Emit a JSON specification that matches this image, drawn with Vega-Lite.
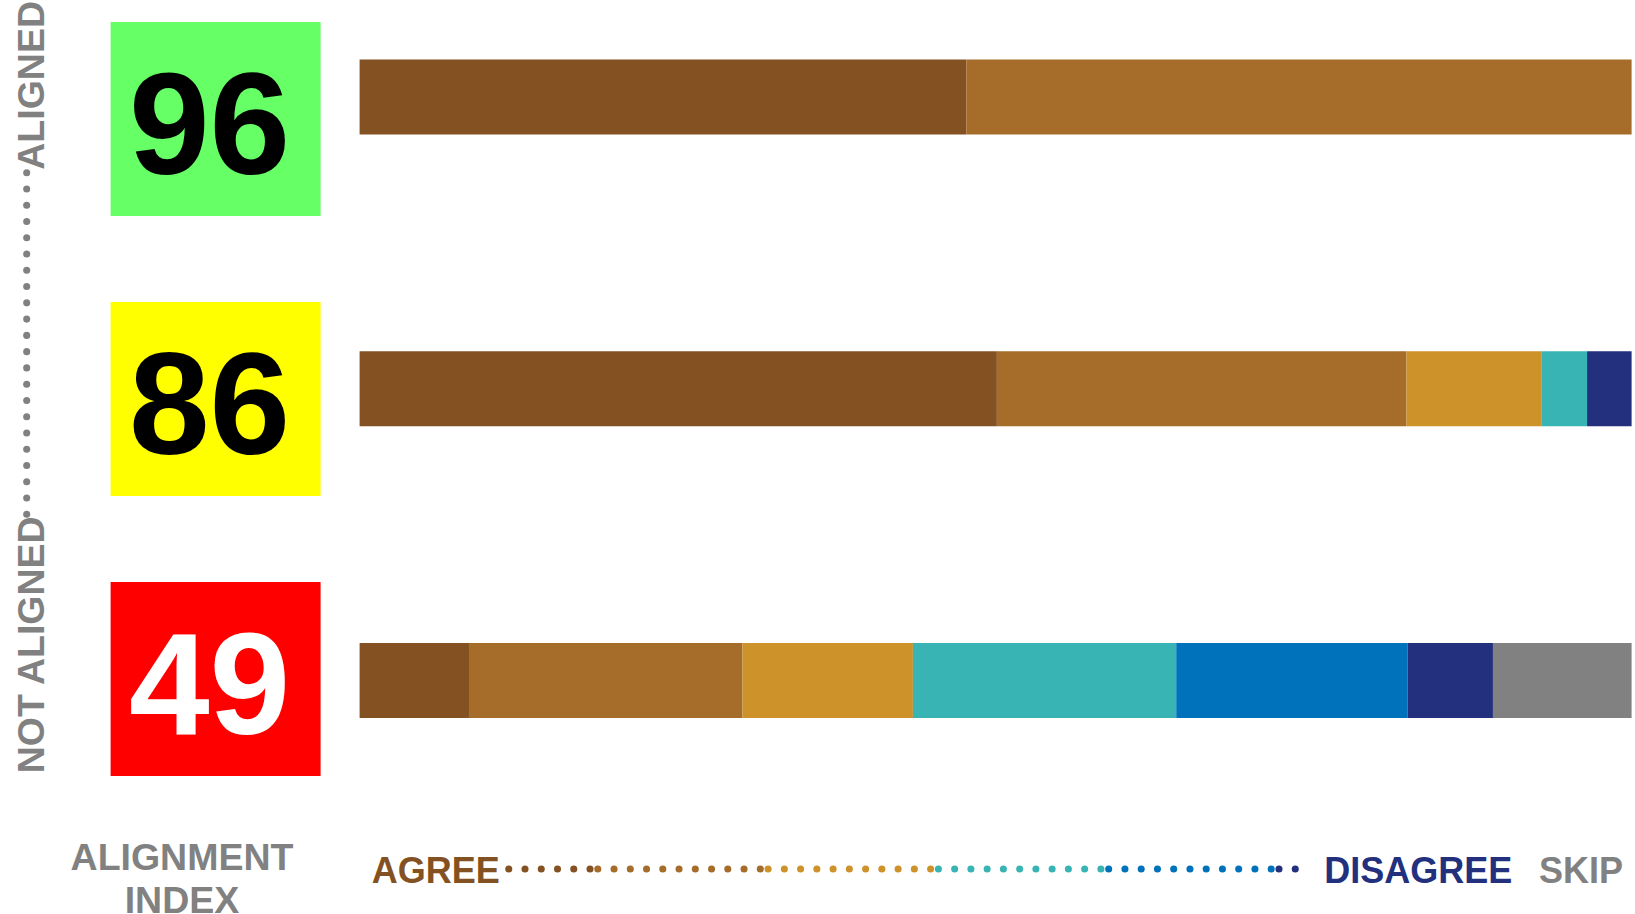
{
  "$schema": "https://vega.github.io/schema/vega-lite/v6.json",
  "padding": 0,
  "background": "white",
  "config": {"view": {"stroke": null}},
  "spacing": 12,
  "vconcat": [
    {
      "spacing": 56.6,
      "hconcat": [
        {
          "width": 53.4,
          "height": 776,
          "encoding": {
            "y": {"field": "k", "type": "quantitative", "axis": null,
              "scale": {"domain": [-9.617, 38.087], "reverse": true, "nice": false, "zero": false, "round": false}}
          },
          "layer": [
            {
              "data": {"values": [{"k":1},{"k":2},{"k":3},{"k":4},{"k":5},{"k":6},{"k":7},{"k":8},{"k":9},{"k":10},{"k":11},{"k":12},{"k":13},{"k":14},{"k":15},{"k":16},{"k":17},{"k":18},{"k":19},{"k":20},{"k":21},{"k":22}]},
              "mark": {"type": "circle", "size": 50, "color": "#818181", "opacity": 1}
            },
            {
              "data": {"values": [{"label": "ALIGNED", "k": 1}]},
              "mark": {"type": "text", "angle": 270, "align": "left", "baseline": "alphabetic", "dx": 3, "dy": 17.3, "font": "Liberation Sans", "fontSize": 37.5, "fontWeight": "bold", "color": "#818181"},
              "encoding": {"text": {"field": "label"}}
            },
            {
              "data": {"values": [{"label": "NOT ALIGNED", "k": 22}]},
              "mark": {"type": "text", "angle": 270, "align": "right", "baseline": "alphabetic", "dx": -2, "dy": 17.3, "font": "Liberation Sans", "fontSize": 37.5, "fontWeight": "bold", "color": "#818181"},
              "encoding": {"text": {"field": "label"}}
            }
          ]
        },
        {
          "spacing": 39,
          "hconcat": [
            {
              "width": 210,
              "height": 776,
              "data": {"values": [{"index": "96"}, {"index": "86"}, {"index": "49"}]},
              "encoding": {
                "y": {"field": "index", "type": "nominal", "axis": null,
                  "scale": {"type": "band", "domain": ["96","86","49"], "paddingInner": 0.3071, "paddingOuter": 0.0392, "align": 1, "round": false}}
              },
              "layer": [
                {
                  "mark": {"type": "bar"},
                  "encoding": {"fill": {"field": "index", "type": "nominal", "legend": null,
                    "scale": {"domain": ["96","86","49"], "range": ["#66FF66","#FFFF00","#FF0000"]}}}
                },
                {
                  "mark": {"type": "text", "font": "Liberation Sans", "fontSize": 145, "fontWeight": "bold", "baseline": "middle", "align": "center", "dx": -6, "dy": 11},
                  "encoding": {
                    "text": {"field": "index"},
                    "color": {"condition": {"test": "datum.index === '49'", "value": "white"}, "value": "black"}
                  }
                }
              ]
            },
            {
              "width": 1272,
              "height": 776,
              "data": {"values": [
                {"index": "96", "level": "Strongly agree", "rank": 1, "pct": 47.7},
                {"index": "96", "level": "Agree", "rank": 2, "pct": 52.3},
                {"index": "86", "level": "Strongly agree", "rank": 1, "pct": 50.1},
                {"index": "86", "level": "Agree", "rank": 2, "pct": 32.2},
                {"index": "86", "level": "Somewhat agree", "rank": 3, "pct": 10.6},
                {"index": "86", "level": "Somewhat disagree", "rank": 4, "pct": 3.6},
                {"index": "86", "level": "Strongly disagree", "rank": 6, "pct": 3.5},
                {"index": "49", "level": "Strongly agree", "rank": 1, "pct": 8.6},
                {"index": "49", "level": "Agree", "rank": 2, "pct": 21.5},
                {"index": "49", "level": "Somewhat agree", "rank": 3, "pct": 13.4},
                {"index": "49", "level": "Somewhat disagree", "rank": 4, "pct": 20.7},
                {"index": "49", "level": "Disagree", "rank": 5, "pct": 18.2},
                {"index": "49", "level": "Strongly disagree", "rank": 6, "pct": 6.7},
                {"index": "49", "level": "Skip", "rank": 7, "pct": 10.9}
              ]},
              "mark": {"type": "bar"},
              "encoding": {
                "y": {"field": "index", "type": "nominal", "axis": null,
                  "scale": {"type": "band", "domain": ["96","86","49"], "paddingInner": 0.7429, "paddingOuter": 0.2014, "align": 0.5055, "round": false}},
                "x": {"field": "pct", "type": "quantitative", "stack": "zero", "axis": null,
                  "scale": {"domain": [0, 100], "nice": false, "zero": true, "round": false}},
                "color": {"field": "level", "type": "nominal", "legend": null,
                  "scale": {"domain": ["Strongly agree","Agree","Somewhat agree","Somewhat disagree","Disagree","Strongly disagree","Skip"],
                            "range": ["#845222","#A56C2A","#CD922A","#39B4B4","#0072BC","#22307D","#818181"]}},
                "order": {"field": "rank", "type": "quantitative"}
              }
            }
          ]
        }
      ]
    },
    {
      "spacing": 39,
      "hconcat": [
        {
          "width": 320,
          "height": 160,
          "data": {"values": [{"label": "ALIGNMENT INDEX"}]},
          "mark": {"type": "text", "lineBreak": " ", "lineHeight": 42.5, "font": "Liberation Sans", "fontSize": 37.5, "fontWeight": "bold", "color": "#818181", "align": "center", "baseline": "middle", "dx": 22, "dy": -10},
          "encoding": {"text": {"field": "label"}}
        },
        {
          "width": 1272,
          "height": 160,
          "encoding": {
            "x": {"field": "level", "type": "nominal", "axis": null,
              "scale": {"type": "band", "domain": ["Strongly agree","Agree","Somewhat agree","Somewhat disagree","Disagree","Strongly disagree","Skip"],
                        "paddingInner": 0.045802, "paddingOuter": 0.257491, "align": 0.78107, "round": false}}
          },
          "layer": [
            {
              "data": {"values": [
                {"level": "Strongly agree", "k": 6},{"level": "Strongly agree", "k": 7},{"level": "Strongly agree", "k": 8},{"level": "Strongly agree", "k": 9},{"level": "Strongly agree", "k": 10},{"level": "Strongly agree", "k": 11},
                {"level": "Agree", "k": 1},{"level": "Agree", "k": 2},{"level": "Agree", "k": 3},{"level": "Agree", "k": 4},{"level": "Agree", "k": 5},{"level": "Agree", "k": 6},{"level": "Agree", "k": 7},{"level": "Agree", "k": 8},{"level": "Agree", "k": 9},{"level": "Agree", "k": 10},{"level": "Agree", "k": 11},
                {"level": "Somewhat agree", "k": 1},{"level": "Somewhat agree", "k": 2},{"level": "Somewhat agree", "k": 3},{"level": "Somewhat agree", "k": 4},{"level": "Somewhat agree", "k": 5},{"level": "Somewhat agree", "k": 6},{"level": "Somewhat agree", "k": 7},{"level": "Somewhat agree", "k": 8},{"level": "Somewhat agree", "k": 9},{"level": "Somewhat agree", "k": 10},{"level": "Somewhat agree", "k": 11},
                {"level": "Somewhat disagree", "k": 1},{"level": "Somewhat disagree", "k": 2},{"level": "Somewhat disagree", "k": 3},{"level": "Somewhat disagree", "k": 4},{"level": "Somewhat disagree", "k": 5},{"level": "Somewhat disagree", "k": 6},{"level": "Somewhat disagree", "k": 7},{"level": "Somewhat disagree", "k": 8},{"level": "Somewhat disagree", "k": 9},{"level": "Somewhat disagree", "k": 10},{"level": "Somewhat disagree", "k": 11},
                {"level": "Disagree", "k": 1},{"level": "Disagree", "k": 2},{"level": "Disagree", "k": 3},{"level": "Disagree", "k": 4},{"level": "Disagree", "k": 5},{"level": "Disagree", "k": 6},{"level": "Disagree", "k": 7},{"level": "Disagree", "k": 8},{"level": "Disagree", "k": 9},{"level": "Disagree", "k": 10},{"level": "Disagree", "k": 11},
                {"level": "Strongly disagree", "k": 1},{"level": "Strongly disagree", "k": 2}
              ]},
              "mark": {"type": "circle", "size": 50, "opacity": 1},
              "encoding": {
                "xOffset": {"field": "k", "type": "ordinal", "scale": {"type": "point", "padding": 0, "domain": [1,2,3,4,5,6,7,8,9,10,11]}},
                "color": {"field": "level", "type": "nominal", "legend": null,
                  "scale": {"domain": ["Strongly agree","Agree","Somewhat agree","Somewhat disagree","Disagree","Strongly disagree","Skip"],
                            "range": ["#845222","#A56C2A","#CD922A","#39B4B4","#0072BC","#22307D","#818181"]}}
              }
            },
            {
              "data": {"values": [{"label": "AGREE", "level": "Strongly agree"}]},
              "mark": {"type": "text", "align": "right", "baseline": "middle", "dx": -9, "dy": 3, "font": "Liberation Sans", "fontSize": 36, "fontWeight": "bold"},
              "encoding": {"text": {"field": "label"}, "color": {"field": "level", "type": "nominal", "legend": null}}
            },
            {
              "data": {"values": [{"label": "DISAGREE", "level": "Strongly disagree"}]},
              "mark": {"type": "text", "align": "left", "baseline": "middle", "dx": -36, "dy": 3, "font": "Liberation Sans", "fontSize": 36, "fontWeight": "bold"},
              "encoding": {"text": {"field": "label"}, "color": {"field": "level", "type": "nominal", "legend": null}}
            },
            {
              "data": {"values": [{"label": "SKIP", "level": "Skip"}]},
              "mark": {"type": "text", "align": "left", "baseline": "middle", "dx": 8.5, "dy": 3, "font": "Liberation Sans", "fontSize": 36, "fontWeight": "bold"},
              "encoding": {"text": {"field": "label"}, "color": {"field": "level", "type": "nominal", "legend": null}}
            }
          ]
        }
      ]
    }
  ]
}
